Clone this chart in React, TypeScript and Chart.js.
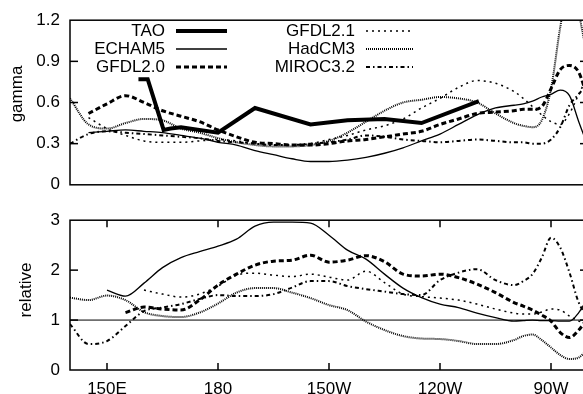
import { useEffect, useRef } from "react";
import { Chart, registerables } from "chart.js";
Chart.register(...registerables);

// ---------- data ----------
const LON = [140, 145, 150, 155, 160, 165, 170, 175, 180, 185, 190, 195, 200, 205, 210, 215, 220, 225, 230, 235, 240, 245, 250, 255, 260, 262.5, 265, 267.5, 270, 272.5, 275, 277.5, 280];

const TAO_LON = [158.5, 161, 165.3, 167.2, 170, 180, 190, 205, 215, 225, 235, 250.5];
const TAO_GAMMA = [0.77, 0.77, 0.4, 0.41, 0.42, 0.38, 0.56, 0.44, 0.47, 0.48, 0.45, 0.61];

const ECHAM5_GAMMA = [null, 0.38, 0.39, 0.4, 0.39, 0.38, 0.36, 0.34, 0.31, 0.29, 0.25, 0.22, 0.19, 0.17, 0.17, 0.18, 0.2, 0.23, 0.27, 0.32, 0.37, 0.44, 0.51, 0.56, 0.58, 0.59, 0.61, 0.64, 0.66, 0.69, 0.65, 0.46, 0.28];
const GFDL20_GAMMA = [null, 0.52, 0.59, 0.65, 0.6, 0.54, 0.5, 0.46, 0.4, 0.35, 0.31, 0.3, 0.29, 0.29, 0.3, 0.32, 0.33, 0.35, 0.37, 0.39, 0.44, 0.48, 0.52, 0.53, 0.54, 0.55, 0.55, 0.57, 0.7, 0.84, 0.87, 0.82, 0.62];
const GFDL21_GAMMA = [null, 0.49, 0.41, 0.36, 0.32, 0.31, 0.31, 0.32, 0.33, 0.32, 0.3, 0.29, 0.29, 0.3, 0.33, 0.36, 0.4, 0.43, 0.48, 0.56, 0.63, 0.71, 0.76, 0.74, 0.68, 0.63, 0.57, 0.51, 0.46, 0.44, 0.52, 0.66, 0.8];
const HADCM3_GAMMA = [0.63, 0.44, 0.41, 0.45, 0.48, 0.47, 0.41, 0.38, 0.34, 0.31, 0.29, 0.28, 0.28, 0.29, 0.32, 0.38, 0.46, 0.54, 0.6, 0.62, 0.64, 0.63, 0.6, 0.52, 0.45, 0.43, 0.42, 0.47, 0.7, 1.15, 1.5, 1.25, 0.9];
const MIROC32_GAMMA = [0.3, 0.37, 0.39, 0.38, 0.37, 0.36, 0.35, 0.34, 0.32, 0.31, 0.3, 0.29, 0.29, 0.3, 0.31, 0.33, 0.36, 0.35, 0.33, 0.32, 0.31, 0.32, 0.33, 0.32, 0.31, 0.31, 0.3, 0.3, 0.33, 0.42, 0.58, 0.66, 0.75];

const ECHAM5_REL = [null, null, 1.6, 1.48, 1.74, 2.05, 2.25, 2.37, 2.48, 2.62, 2.88, 2.96, 2.96, 2.94, 2.7, 2.4, 2.22, 1.92, 1.64, 1.45, 1.32, 1.25, 1.14, 1.05, 0.98, 0.99, 1.0, 0.99, 0.99, 0.98, 0.98, 1.15, 1.45];
const GFDL20_REL = [null, null, null, 1.15, 1.26, 1.22, 1.2, 1.4, 1.7, 1.92, 2.1, 2.18, 2.2, 2.3, 2.16, 2.2, 2.29, 2.17, 1.92, 1.88, 1.92, 1.85, 1.72, 1.55, 1.35, 1.28, 1.2, 1.1, 0.98, 0.75, 0.65, 0.8, 1.05];
const GFDL21_REL = [null, null, null, null, 1.6, 1.52, 1.46, 1.52, 1.68, 1.9, 1.94, 1.9, 1.87, 1.92, 1.86, 1.8, 1.98, 1.75, 1.52, 1.47, 1.44, 1.4, 1.32, 1.22, 1.14, 1.12, 1.12, 1.16, 1.22, 1.2, 1.08, 0.98, 0.92];
const HADCM3_REL = [1.45, 1.4, 1.49, 1.4, 1.16, 1.08, 1.06, 1.15, 1.33, 1.55, 1.64, 1.64, 1.55, 1.44, 1.3, 1.2, 0.97, 0.8, 0.68, 0.63, 0.62, 0.58, 0.52, 0.52, 0.6, 0.68, 0.71, 0.6, 0.45, 0.3, 0.22, 0.25, 0.42];
const MIROC32_REL = [0.92, 0.52, 0.58, 0.88, 1.18, 1.25, 1.32, 1.42, 1.5, 1.48, 1.48, 1.52, 1.65, 1.78, 1.78, 1.68, 1.62, 1.57, 1.52, 1.5, 1.8, 1.95, 2.02, 1.8, 1.7, 1.78, 1.92, 2.25, 2.65, 2.45, 1.95, 1.35, 1.05];

const REF_LON = [140, 280];
const REF_REL = [1, 1];

const X_TICKS = [150, 180, 210, 240, 270];
const X_TICK_LABELS = ["150E", "180", "150W", "120W", "90W"];
const GAMMA_TICKS = [0, 0.3, 0.6, 0.9, 1.2];
const REL_TICKS = [0, 1, 2, 3];

// ---------- styles ----------
const FONT = "'Liberation Sans', Arial, Helvetica, sans-serif";
const STYLES: Record<string, { width: number; dash: number[] }> = {
  TAO: { width: 4, dash: [] },
  ECHAM5: { width: 1.3, dash: [] },
  "GFDL2.0": { width: 3, dash: [5, 3] },
  "GFDL2.1": { width: 1.5, dash: [2, 4] },
  HadCM3: { width: 2, dash: [1, 1] },
  "MIROC3.2": { width: 2, dash: [4, 3, 1.5, 3] },
};
// legend slot: [column, row]
const LEGEND_SLOTS: Record<string, [number, number]> = {
  TAO: [0, 0], ECHAM5: [0, 1], "GFDL2.0": [0, 2],
  "GFDL2.1": [1, 0], HadCM3: [1, 1], "MIROC3.2": [1, 2],
};
const LEGEND_COLS = [{ textRight: 165, x0: 176, x1: 227 }, { textRight: 355, x0: 366, x1: 413 }];
const LEGEND_ROWS = [31, 49, 67];

function pts(xs: number[], ys: (number | null)[]) {
  return xs.map((x, i) => ({ x, y: ys[i] }));
}

function ds(label: string, xs: number[], ys: (number | null)[], straight = false) {
  const s = STYLES[label];
  return {
    label,
    data: pts(xs, ys),
    borderColor: "#000",
    backgroundColor: "#000",
    borderWidth: s.width,
    borderDash: s.dash,
    pointRadius: 0,
    fill: false,
    spanGaps: false,
    tension: straight ? 0 : 0.4,
    cubicInterpolationMode: straight ? "default" : "monotone",
  } as any;
}

function makePlugin(cfg: { xTicks: boolean; title: string; titleX: number; titleY: number; legend: boolean }) {
  return {
    id: "frameDeco",
    afterDraw(chart: any) {
      const { ctx, chartArea: a, scales } = chart;
      ctx.save();
      ctx.setLineDash([]);
      ctx.strokeStyle = "#000";
      ctx.lineWidth = 1.5;
      ctx.strokeRect(a.left, a.top, a.right - a.left, a.bottom - a.top);
      const seg = (x0: number, y0: number, x1: number, y1: number) => {
        ctx.beginPath();
        ctx.moveTo(x0, y0);
        ctx.lineTo(x1, y1);
        ctx.stroke();
      };
      const ys = scales.y;
      ys.ticks.forEach((t: any) => {
        if (t.value <= ys.min || t.value >= ys.max) return;
        const py = ys.getPixelForValue(t.value);
        seg(a.left, py, a.left + 8, py);
        seg(a.right - 8, py, a.right, py);
      });
      if (cfg.xTicks) {
        const xs = scales.x;
        xs.ticks.forEach((t: any) => {
          const px = xs.getPixelForValue(t.value);
          seg(px, a.bottom, px, a.bottom - 7);
          seg(px, a.top, px, a.top + 7);
        });
      }
      // axis title
      ctx.fillStyle = "#000";
      ctx.font = `17px ${FONT}`;
      ctx.save();
      ctx.translate(cfg.titleX, cfg.titleY);
      ctx.rotate(-Math.PI / 2);
      ctx.textAlign = "center";
      ctx.textBaseline = "alphabetic";
      ctx.fillText(cfg.title, 0, 0);
      ctx.restore();
      if (cfg.legend) {
        chart.data.datasets.forEach((d: any) => {
          const slot = LEGEND_SLOTS[d.label];
          if (!slot) return;
          const col = LEGEND_COLS[slot[0]];
          const y = LEGEND_ROWS[slot[1]];
          ctx.font = `17px ${FONT}`;
          ctx.textAlign = "right";
          ctx.textBaseline = "middle";
          ctx.fillText(d.label, col.textRight, y);
          ctx.lineWidth = d.borderWidth;
          ctx.setLineDash(d.borderDash || []);
          ctx.beginPath();
          ctx.moveTo(col.x0, y);
          ctx.lineTo(col.x1, y);
          ctx.stroke();
          ctx.setLineDash([]);
        });
      }
      ctx.restore();
    },
  };
}

const tickFont = { family: FONT, size: 17 };

export default function App() {
  const topRef = useRef<HTMLCanvasElement>(null);
  const botRef = useRef<HTMLCanvasElement>(null);

  useEffect(() => {
    const top = new Chart(topRef.current as HTMLCanvasElement, {
      type: "line",
      data: {
        datasets: [
          ds("TAO", TAO_LON, TAO_GAMMA, true),
          ds("ECHAM5", LON, ECHAM5_GAMMA),
          ds("GFDL2.0", LON, GFDL20_GAMMA),
          ds("GFDL2.1", LON, GFDL21_GAMMA),
          ds("HadCM3", LON, HADCM3_GAMMA),
          ds("MIROC3.2", LON, MIROC32_GAMMA),
        ],
      },
      options: {
        responsive: false,
        animation: false,
        events: [],
        layout: { padding: { top: 13, bottom: 12, left: 0, right: 4 } },
        plugins: { legend: { display: false }, tooltip: { enabled: false } },
        scales: {
          x: { type: "linear", min: 140, max: 280, display: false },
          y: {
            type: "linear",
            min: 0,
            max: 1.2,
            afterFit: (s: any) => { s.width = 70; },
            afterBuildTicks: (s: any) => { s.ticks = GAMMA_TICKS.map((v) => ({ value: v })); },
            grid: { display: false, drawTicks: false },
            border: { display: false },
            ticks: {
              padding: 10,
              color: "#000",
              font: tickFont,
              callback: (v: any) => (Number(v) === 0 ? "0" : Number(v).toFixed(1)),
            },
          },
        },
      } as any,
      plugins: [makePlugin({ xTicks: false, title: "gamma", titleX: 21.5, titleY: 94, legend: true })],
    });

    const refDs = {
      label: "ref",
      data: pts(REF_LON, REF_REL),
      borderColor: "#000",
      borderWidth: 1,
      pointRadius: 0,
      tension: 0,
    } as any;

    const bot = new Chart(botRef.current as HTMLCanvasElement, {
      type: "line",
      data: {
        datasets: [
          ds("ECHAM5", LON, ECHAM5_REL),
          ds("GFDL2.0", LON, GFDL20_REL),
          ds("GFDL2.1", LON, GFDL21_REL),
          ds("HadCM3", LON, HADCM3_REL),
          ds("MIROC3.2", LON, MIROC32_REL),
          refDs,
        ],
      },
      options: {
        responsive: false,
        animation: false,
        events: [],
        layout: { padding: { top: 10, bottom: 0, left: 0, right: 4 } },
        plugins: { legend: { display: false }, tooltip: { enabled: false } },
        scales: {
          x: {
            type: "linear",
            min: 140,
            max: 280,
            afterFit: (s: any) => { s.height = 24; },
            afterBuildTicks: (s: any) => { s.ticks = X_TICKS.map((v) => ({ value: v })); },
            grid: { display: false, drawTicks: false },
            border: { display: false },
            ticks: {
              padding: 9,
              color: "#000",
              font: tickFont,
              maxRotation: 0,
              callback: (v: any) => {
                const i = X_TICKS.indexOf(Number(v));
                return i >= 0 ? X_TICK_LABELS[i] : "";
              },
            },
          },
          y: {
            type: "linear",
            min: 0,
            max: 3,
            afterFit: (s: any) => { s.width = 70; },
            afterBuildTicks: (s: any) => { s.ticks = REL_TICKS.map((v) => ({ value: v })); },
            grid: { display: false, drawTicks: false },
            border: { display: false },
            ticks: { padding: 10, color: "#000", font: tickFont, callback: (v: any) => String(v) },
          },
        },
      } as any,
      plugins: [makePlugin({ xTicks: true, title: "relative", titleX: 31, titleY: 90, legend: false })],
    });

    return () => {
      top.destroy();
      bot.destroy();
    };
  }, []);

  return (
    <div style={{ position: "fixed", left: 0, top: 0, width: 583, height: 394, overflow: "hidden", background: "#fff" }}>
      <canvas ref={topRef} width={592} height={205} style={{ position: "absolute", left: 0, top: 0 }} />
      <canvas ref={botRef} width={592} height={194} style={{ position: "absolute", left: 0, top: 200 }} />
    </div>
  );
}
